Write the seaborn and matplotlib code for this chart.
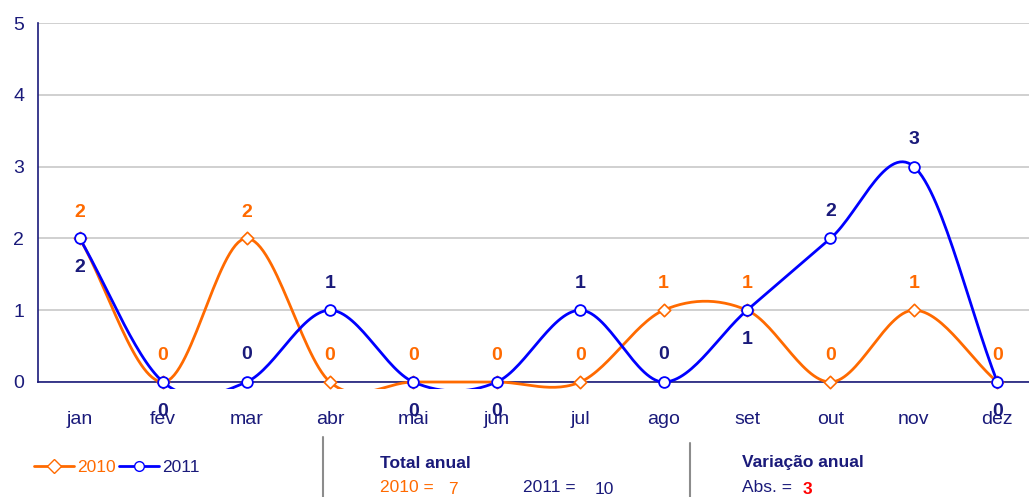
import numpy as np
import pandas as pd
import matplotlib
matplotlib.use("Agg")
import matplotlib.pyplot as plt
from matplotlib.lines import Line2D
from matplotlib.patches import Rectangle
import seaborn as sns

months = ["jan", "fev", "mar", "abr", "mai", "jun", "jul", "ago", "set", "out", "nov", "dez"]
vals_2010 = [2, 0, 2, 0, 0, 0, 0, 1, 1, 0, 1, 0]
vals_2011 = [2, 0, 0, 1, 0, 0, 1, 0, 1, 2, 3, 0]
# where the 2011 label sits: +1 above, -1 below
pos_2011 = [-1, -1, 1, 1, -1, -1, 1, 1, -1, 1, 1, -1]

ORANGE = "#ff6a00"
BLUE = "#0000ff"
NAVY = "#1a1a7a"

sns.set_style("white")
plt.rcParams["font.family"] = ["Liberation Sans Narrow", "Liberation Sans", "DejaVu Sans"]


def smooth(y, n=30):
    # Catmull-Rom style smoothing like a spreadsheet "smoothed line"
    y = np.asarray(y, float)
    xs, ys = [], []
    for i in range(len(y) - 1):
        m0 = (y[i + 1] - y[i - 1]) / 2 if i > 0 else (y[i + 1] - y[i])
        m1 = (y[i + 2] - y[i]) / 2 if i + 2 < len(y) else (y[i + 1] - y[i])
        t = np.linspace(0, 1, n, endpoint=False)
        h00 = 2 * t**3 - 3 * t**2 + 1
        h10 = t**3 - 2 * t**2 + t
        h01 = -2 * t**3 + 3 * t**2
        h11 = t**3 - t**2
        xs.append(i + t)
        ys.append(h00 * y[i] + h10 * m0 + h01 * y[i + 1] + h11 * m1)
    xs.append([len(y) - 1])
    ys.append([y[-1]])
    return np.concatenate(xs), np.concatenate(ys)


fig = plt.figure(figsize=(10.29, 4.97), dpi=100)
ax = fig.add_axes([38 / 1029, 115 / 497, 1001 / 1029, 359 / 497])

x = np.arange(len(months))
for vals, col in [(vals_2010, ORANGE), (vals_2011, BLUE)]:
    sx, sy = smooth(vals)
    sns.lineplot(x=sx, y=sy, sort=False, estimator=None, color=col, lw=2.0, ax=ax, zorder=3)

# plot area reaches a little below the zero line
clip = Rectangle((-0.5, -0.1), 12, 5.6, transform=ax.transData, visible=False)
ax.add_patch(clip)
for ln in ax.lines:
    ln.set_clip_path(clip)

sns.scatterplot(x=x, y=vals_2010, marker="D", s=40, facecolor="white", edgecolor=ORANGE,
                linewidth=1.2, ax=ax, zorder=4, clip_on=False)
sns.scatterplot(x=x, y=vals_2011, marker="o", s=60, facecolor="white", edgecolor=BLUE,
                linewidth=1.3, ax=ax, zorder=5, clip_on=False)

for i, v in enumerate(vals_2010):
    ax.annotate(str(v), (i, v), xytext=(0, 19), textcoords="offset points", ha="center",
                va="center", color=ORANGE, fontsize=14, fontweight="bold",
                family=["Liberation Sans", "DejaVu Sans"])
for i, (v, p) in enumerate(zip(vals_2011, pos_2011)):
    ax.annotate(str(v), (i, v), xytext=(0, 19.5 if p > 0 else -21), textcoords="offset points",
                ha="center", va="center", color=NAVY, fontsize=14, fontweight="bold",
                family=["Liberation Sans", "DejaVu Sans"], zorder=6)

ax.set_xlim(-0.5, 11.5)
ax.set_ylim(0, 5)
ax.set_yticks(range(6))
ax.set_xticks(np.arange(-0.5, 12, 1))
ax.set_xticklabels([])
ax.set_xticks(x, minor=True)
ax.set_xticklabels(months, minor=True)
ax.tick_params(axis="x", which="major", direction="out", length=6, color=NAVY, width=1.2)
ax.tick_params(axis="x", which="minor", length=0, pad=21, labelsize=14, labelcolor=NAVY)
ax.tick_params(axis="y", direction="out", length=6, color=NAVY, width=1.2, labelsize=14,
               labelcolor=NAVY, pad=4)
ax.grid(axis="y", color="#c8c8c8", lw=1.2)
ax.set_axisbelow(True)
for s in ["top", "right"]:
    ax.spines[s].set_visible(False)
for s in ["left", "bottom"]:
    ax.spines[s].set_color(NAVY)
    ax.spines[s].set_linewidth(1.2)
ax.set_xlabel("")
ax.set_ylabel("")

# legend
handles = [Line2D([], [], color=ORANGE, lw=2, marker="D", ms=7, mfc="white", mec=ORANGE),
           Line2D([], [], color=BLUE, lw=2, marker="o", ms=7, mfc="white", mec=BLUE)]
fig.legend(handles, ["2010", "2011"], loc="center left", bbox_to_anchor=(18 / 1029, 1 - 467 / 497),
           ncol=2, frameon=False, handlelength=2.3, handletextpad=0.2, columnspacing=0.2,
           labelcolor=[ORANGE, NAVY], prop={"size": 12.5})

# separators
for sx, y0 in [(323, 437), (690, 443)]:
    fig.add_artist(Line2D([sx / 1029, sx / 1029], [0, 1 - y0 / 497], transform=fig.transFigure,
                          color="#8c8c8c", lw=1.5))

def ftext(px, py, s, **kw):
    fig.text(px / 1029, 1 - py / 497, s, va="center", ha="left", fontsize=12.5, **kw)

ftext(380, 463, "Total anual", color=NAVY, fontweight="bold")
ftext(380, 487, "2010 =", color=ORANGE)
ftext(448, 490, "7", color=ORANGE)
ftext(523, 487, "2011 =", color=NAVY)
ftext(595, 490, "10", color=NAVY)
ftext(742, 463, "Variação anual", color=NAVY, fontweight="bold")
ftext(742, 487, "Abs. =", color=NAVY)
ftext(803, 490, "3", color="red", fontweight="bold")

fig.savefig("out.png", dpi=100)
